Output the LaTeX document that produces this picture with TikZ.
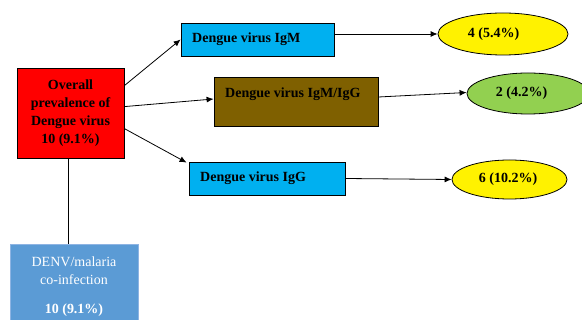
\documentclass[tikz,border=0pt]{standalone}
\usepackage{fontspec}
\setmainfont{Liberation Serif}
\usetikzlibrary{arrows.meta,calc,shapes.geometric}
\definecolor{cyanbox}{HTML}{00B0F0}
\definecolor{brownbox}{HTML}{7F6000}
\definecolor{greenell}{HTML}{92D050}
\definecolor{bluebox}{HTML}{5B9BD5}
\definecolor{blueedge}{HTML}{8EB4E3}
\tikzset{
  box/.style={draw=black, line width=0.8pt, inner sep=0pt},
  oval/.style={ellipse, draw=black, line width=0.8pt, inner sep=0pt},
  lbl/.style={font=\fontsize{14}{18}\selectfont\bfseries, inner sep=0pt, text=black},
  arr/.style={-{Latex[length=7pt,width=6pt]}, line width=0.8pt},
  ln/.style={line width=0.8pt}
}
\begin{document}
\begin{tikzpicture}[x=1pt,y=-1pt]
\useasboundingbox (0,0) rectangle (582,320);
% boxes
\node[box, fill=red, minimum width=107, minimum height=90] (red) at (70.5,113) {};
\node[lbl, align=center] (redtxt) at (70.5,113) {Overall\\prevalence of\\Dengue virus\\10 (9.1\%)};
\node[box, fill=cyanbox, minimum width=153, minimum height=33] (igm) at (257.5,39.5) {};
\node[lbl, anchor=west] (igmtxt) at (192,39) {Dengue virus IgM};
\node[box, fill=brownbox, minimum width=164, minimum height=49] (igmg) at (296,101.5) {};
\node[lbl, anchor=west] (igmgtxt) at (225,94) {Dengue virus IgM/IgG};
\node[box, fill=cyanbox, minimum width=156, minimum height=33] (igg) at (267,178.5) {};
\node[lbl, anchor=west] (iggtxt) at (200,178) {Dengue virus IgG};
% ellipses
\node[oval, fill=yellow, minimum width=130, minimum height=42] (e1) at (503,34) {};
\node[lbl] (e1txt) at (493.5,34) {4 (5.4\%)};
\node[oval, fill=greenell, minimum width=122, minimum height=41] (e2) at (528,93.5) {};
\node[lbl] (e2txt) at (521.5,93.5) {2 (4.2\%)};
\node[oval, fill=yellow, minimum width=115, minimum height=39] (e3) at (509.5,179.5) {};
\node[lbl] (e3txt) at (508,179) {6 (10.2\%)};
% bottom blue box
\node[draw=blueedge, line width=0.8pt, fill=bluebox, minimum width=128, minimum height=90, inner sep=0pt] (blue) at (74,289) {};
\node[font=\fontsize{14}{18}\selectfont, text=white, align=center, inner sep=0pt] (bluetxt) at (74,271) {DENV/malaria\\co-infection};
\node[font=\fontsize{14}{18}\selectfont\bfseries, text=white, inner sep=0pt] (bluenum) at (74,310) {10 (9.1\%)};
% connectors
\draw[arr] ($(red.north east)+(0,18)$) -- (igm.west);
\draw[arr] ($(red.north east)+(0,39)$) -- ($(igmg.west)+(0,-2.5)$);
\draw[arr] ($(red.north east)+(0,61)$) -- ($(igg.north west)+(-2,1)$);
\draw[arr] ($(igm.east)+(0,-5.5)$) -- ($(e1.west)$);
\draw[arr] ($(igmg.east)+(0,-4.5)$) -- ($(e2.west)+(0,-1)$);
\draw[arr] (igg.east) -- (e3.west);
\draw[ln] ($(red.south)+(-2.5,0)$) -- ($(blue.north)+(-6,0)$);
\end{tikzpicture}
\end{document}
